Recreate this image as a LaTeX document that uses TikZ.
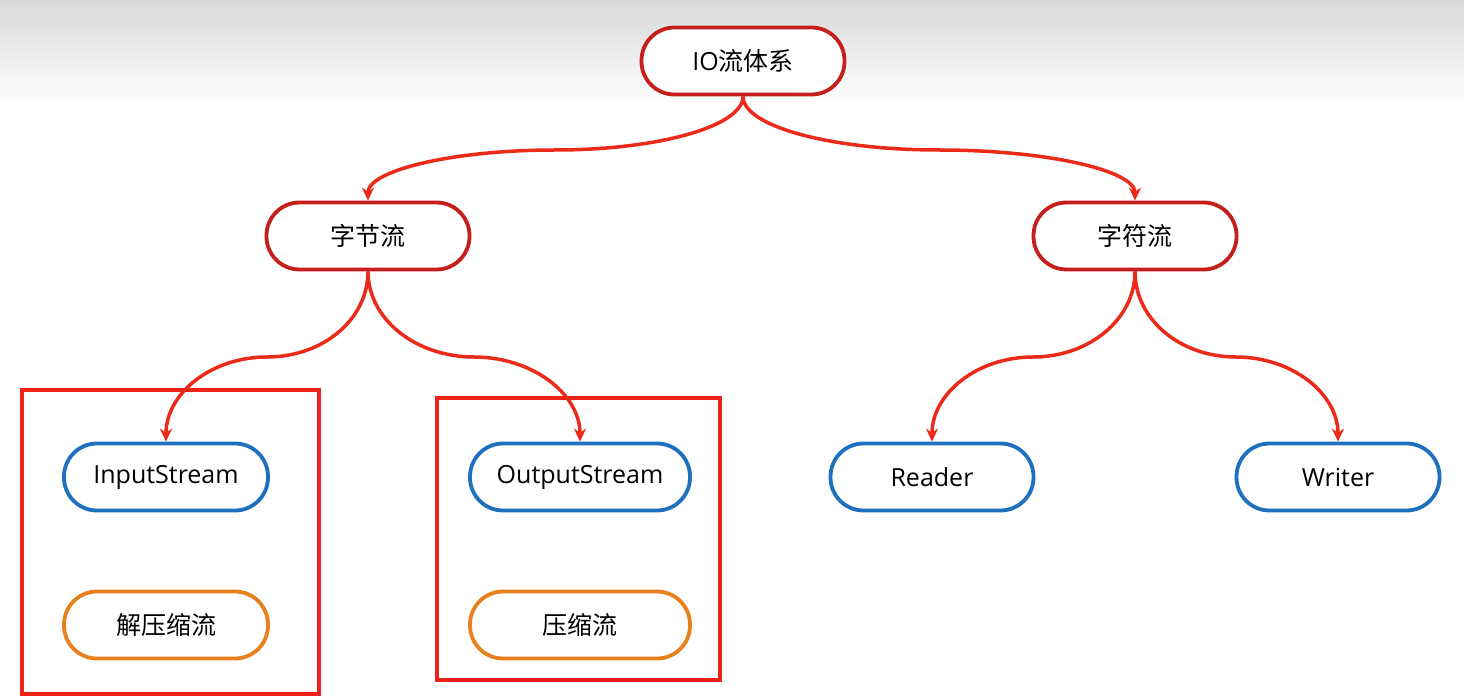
\documentclass[tikz,border=0pt]{standalone}
\usepackage{fontspec}
\setmainfont{Open Sans}
\newfontfamily\cjk{Noto Sans CJK SC}
\usetikzlibrary{arrows.meta}
\definecolor{edgered}{HTML}{EC2A1A}
\definecolor{darkred}{HTML}{C41F1A}
\definecolor{nblue}{HTML}{1F6FBF}
\definecolor{norange}{HTML}{E8801E}
\definecolor{boxred}{HTML}{EC2219}
\tikzset{
  pill/.style={draw, line width=3.8pt, fill=white, rounded corners=33pt,
    minimum height=67pt, inner sep=0pt, font=\fontsize{25}{30}\selectfont, text=black},
  toppill/.style={pill, draw=darkred, minimum width=203pt},
  bluepill/.style={pill, draw=nblue},
  orangepill/.style={pill, draw=norange},
  link/.style={draw=edgered, line width=3.5pt, -{Stealth[length=13pt,width=12pt]}},
  frame/.style={draw=boxred, line width=3.4pt}
}
\begin{document}
\begin{tikzpicture}[x=1pt,y=-1pt]
\useasboundingbox (0,0) rectangle (1464,700);
\fill[white] (0,0) rectangle (1464,700);
\shade[top color=black!15, bottom color=white] (0,0) rectangle (1464,105);

\node[toppill] (io) at (743,61) {IO{\cjk 流体系}};
\node[toppill] (byte) at (368,236) {\cjk 字节流};
\node[toppill] (char) at (1135,236) {\cjk 字符流};

\draw[frame] (22,390) rectangle (319,694);
\draw[frame] (437,398) rectangle (720,680);

\node[bluepill, minimum width=204pt] (in) at (166,477) {\raisebox{-1.5pt}{InputStream}};
\node[bluepill, minimum width=220pt] (out) at (580,477) {\raisebox{-1.5pt}{OutputStream}};
\node[bluepill, minimum width=203pt] (rd) at (932,477) {Reader};
\node[bluepill, minimum width=203pt] (wr) at (1338,477) {Writer};
\node[orangepill, minimum width=204pt] (unz) at (166,625) {\cjk 解压缩流};
\node[orangepill, minimum width=220pt] (zip) at (580,625) {\cjk 压缩流};

\coordinate (m1) at (555,150);
\coordinate (m2) at (939,150);
\coordinate (m3) at (267,357);
\coordinate (m4) at (474,357);
\coordinate (m5) at (1033,357);
\coordinate (m6) at (1236,357);

\draw[link] (io.south) .. controls +(0,30) and +(103,0) .. (m1)
  .. controls +(-103,0) and +(0,-30) .. (byte.north);
\draw[link] (io.south) .. controls +(0,30) and +(-108,0) .. (m2)
  .. controls +(108,0) and +(0,-30) .. (char.north);
\draw[link] (byte.south) .. controls +(0,48) and +(56,0) .. (m3)
  .. controls +(-56,0) and +(0,-48) .. (in.north);
\draw[link] (byte.south) .. controls +(0,48) and +(-58,0) .. (m4)
  .. controls +(58,0) and +(0,-48) .. (out.north);
\draw[link] (char.south) .. controls +(0,48) and +(56,0) .. (m5)
  .. controls +(-56,0) and +(0,-48) .. (rd.north);
\draw[link] (char.south) .. controls +(0,48) and +(-56,0) .. (m6)
  .. controls +(56,0) and +(0,-48) .. (wr.north);
\end{tikzpicture}
\end{document}
